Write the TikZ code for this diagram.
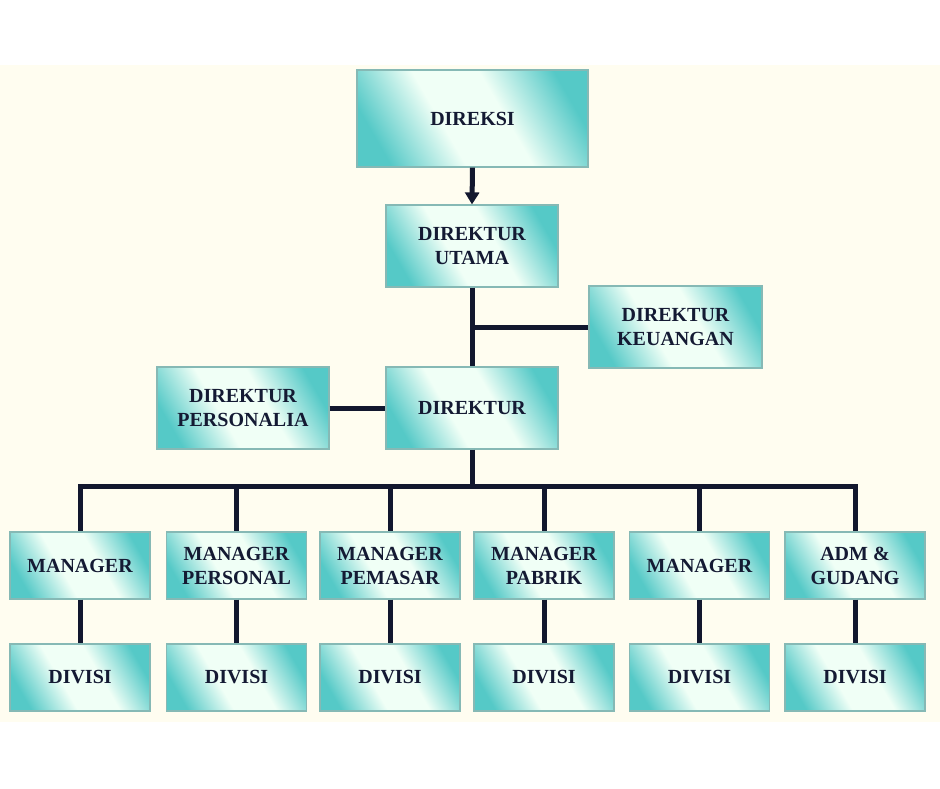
\documentclass[tikz,border=0pt]{standalone}
\usepackage{fontspec}
\setmainfont{Liberation Serif}
\usepackage{xcolor}
\usetikzlibrary{arrows.meta, positioning, calc}

\definecolor{cream}{HTML}{FFFDF0}
\definecolor{boxteal}{HTML}{55C9C7}
\definecolor{boxlight}{HTML}{F0FFF6}
\definecolor{boxedge}{HTML}{86B9B5}
\definecolor{ink}{HTML}{141A33}

\pgfdeclareverticalshading{boxshade}{100bp}{color(0bp)=(boxteal); color(24bp)=(boxteal);
    color(42bp)=(boxlight); color(58bp)=(boxlight); color(76bp)=(boxteal); color(100bp)=(boxteal)}

\begin{document}
\begin{tikzpicture}[
    x=1pt, y=-1pt,
    >=Stealth,
    unit/.style={draw=boxedge, line width=1.2pt, inner sep=0pt,
        shading=boxshade, shading angle=-60, text=ink, align=center,
        font=\fontsize{20}{24}\selectfont\bfseries},
    wide/.style={unit, minimum width=172pt, minimum height=82pt},
    small/.style={unit, minimum width=140pt, minimum height=67pt},
    link/.style={line width=5pt, draw=ink!90!black}
]

\useasboundingbox (0,0) rectangle (940,788);
\fill[white] (0,0) rectangle (940,788);
\fill[cream] (0,65) rectangle (940,722);

% top part
\node[unit, minimum width=231pt, minimum height=97pt] (direksi) at (472.5,118.5) {DIREKSI};
\node[wide] (utama) at (472,246) {DIREKTUR\\UTAMA};
\node[wide, minimum width=173pt] (keuangan) at (675.5,327) {DIREKTUR\\KEUANGAN};
\node[wide] (direktur) at (472,408) {DIREKTUR};
\node[wide] (personalia) at (243,408) {DIREKTUR\\PERSONALIA};

% managers
\node[small] (mgrA) at (80,565.5) {MANAGER};
\node[small] (mgrB) at (236.5,565.5) {MANAGER\\PERSONAL};
\node[small] (mgrC) at (390,565.5) {MANAGER\\PEMASAR};
\node[small] (mgrD) at (544,565.5) {MANAGER\\PABRIK};
\node[small] (mgrE) at (699.5,565.5) {MANAGER};
\node[small] (mgrF) at (855,565.5) {ADM \&\\GUDANG};

% divisions
\node[small] (divA) at (80,677.5) {DIVISI};
\node[small] (divB) at (236.5,677.5) {DIVISI};
\node[small] (divC) at (390,677.5) {DIVISI};
\node[small] (divD) at (544,677.5) {DIVISI};
\node[small] (divE) at (699.5,677.5) {DIVISI};
\node[small] (divF) at (855,677.5) {DIVISI};

\draw[link, -{Triangle[length=12pt, width=14pt]}] (direksi.south) -- (utama.north);
\draw[link] (utama.south) -- (direktur.north);
\coordinate (tee) at (utama.south |- keuangan.west);
\draw[link] (tee) -- (keuangan.west);
\draw[link] (personalia.east) -- (direktur.west);

% bus to managers
\coordinate (bus) at ($(direktur.south)+(0,37)$);
\draw[link] (direktur.south) -- (bus);
\draw[link, line cap=rect] (mgrA.north |- bus) -- (mgrF.north |- bus);
\foreach \m in {A,B,C,D,E,F}{
    \draw[link] (mgr\m.north |- bus) -- (mgr\m.north);
    \draw[link] (mgr\m.south) -- (div\m.north);
}

\end{tikzpicture}
\end{document}
